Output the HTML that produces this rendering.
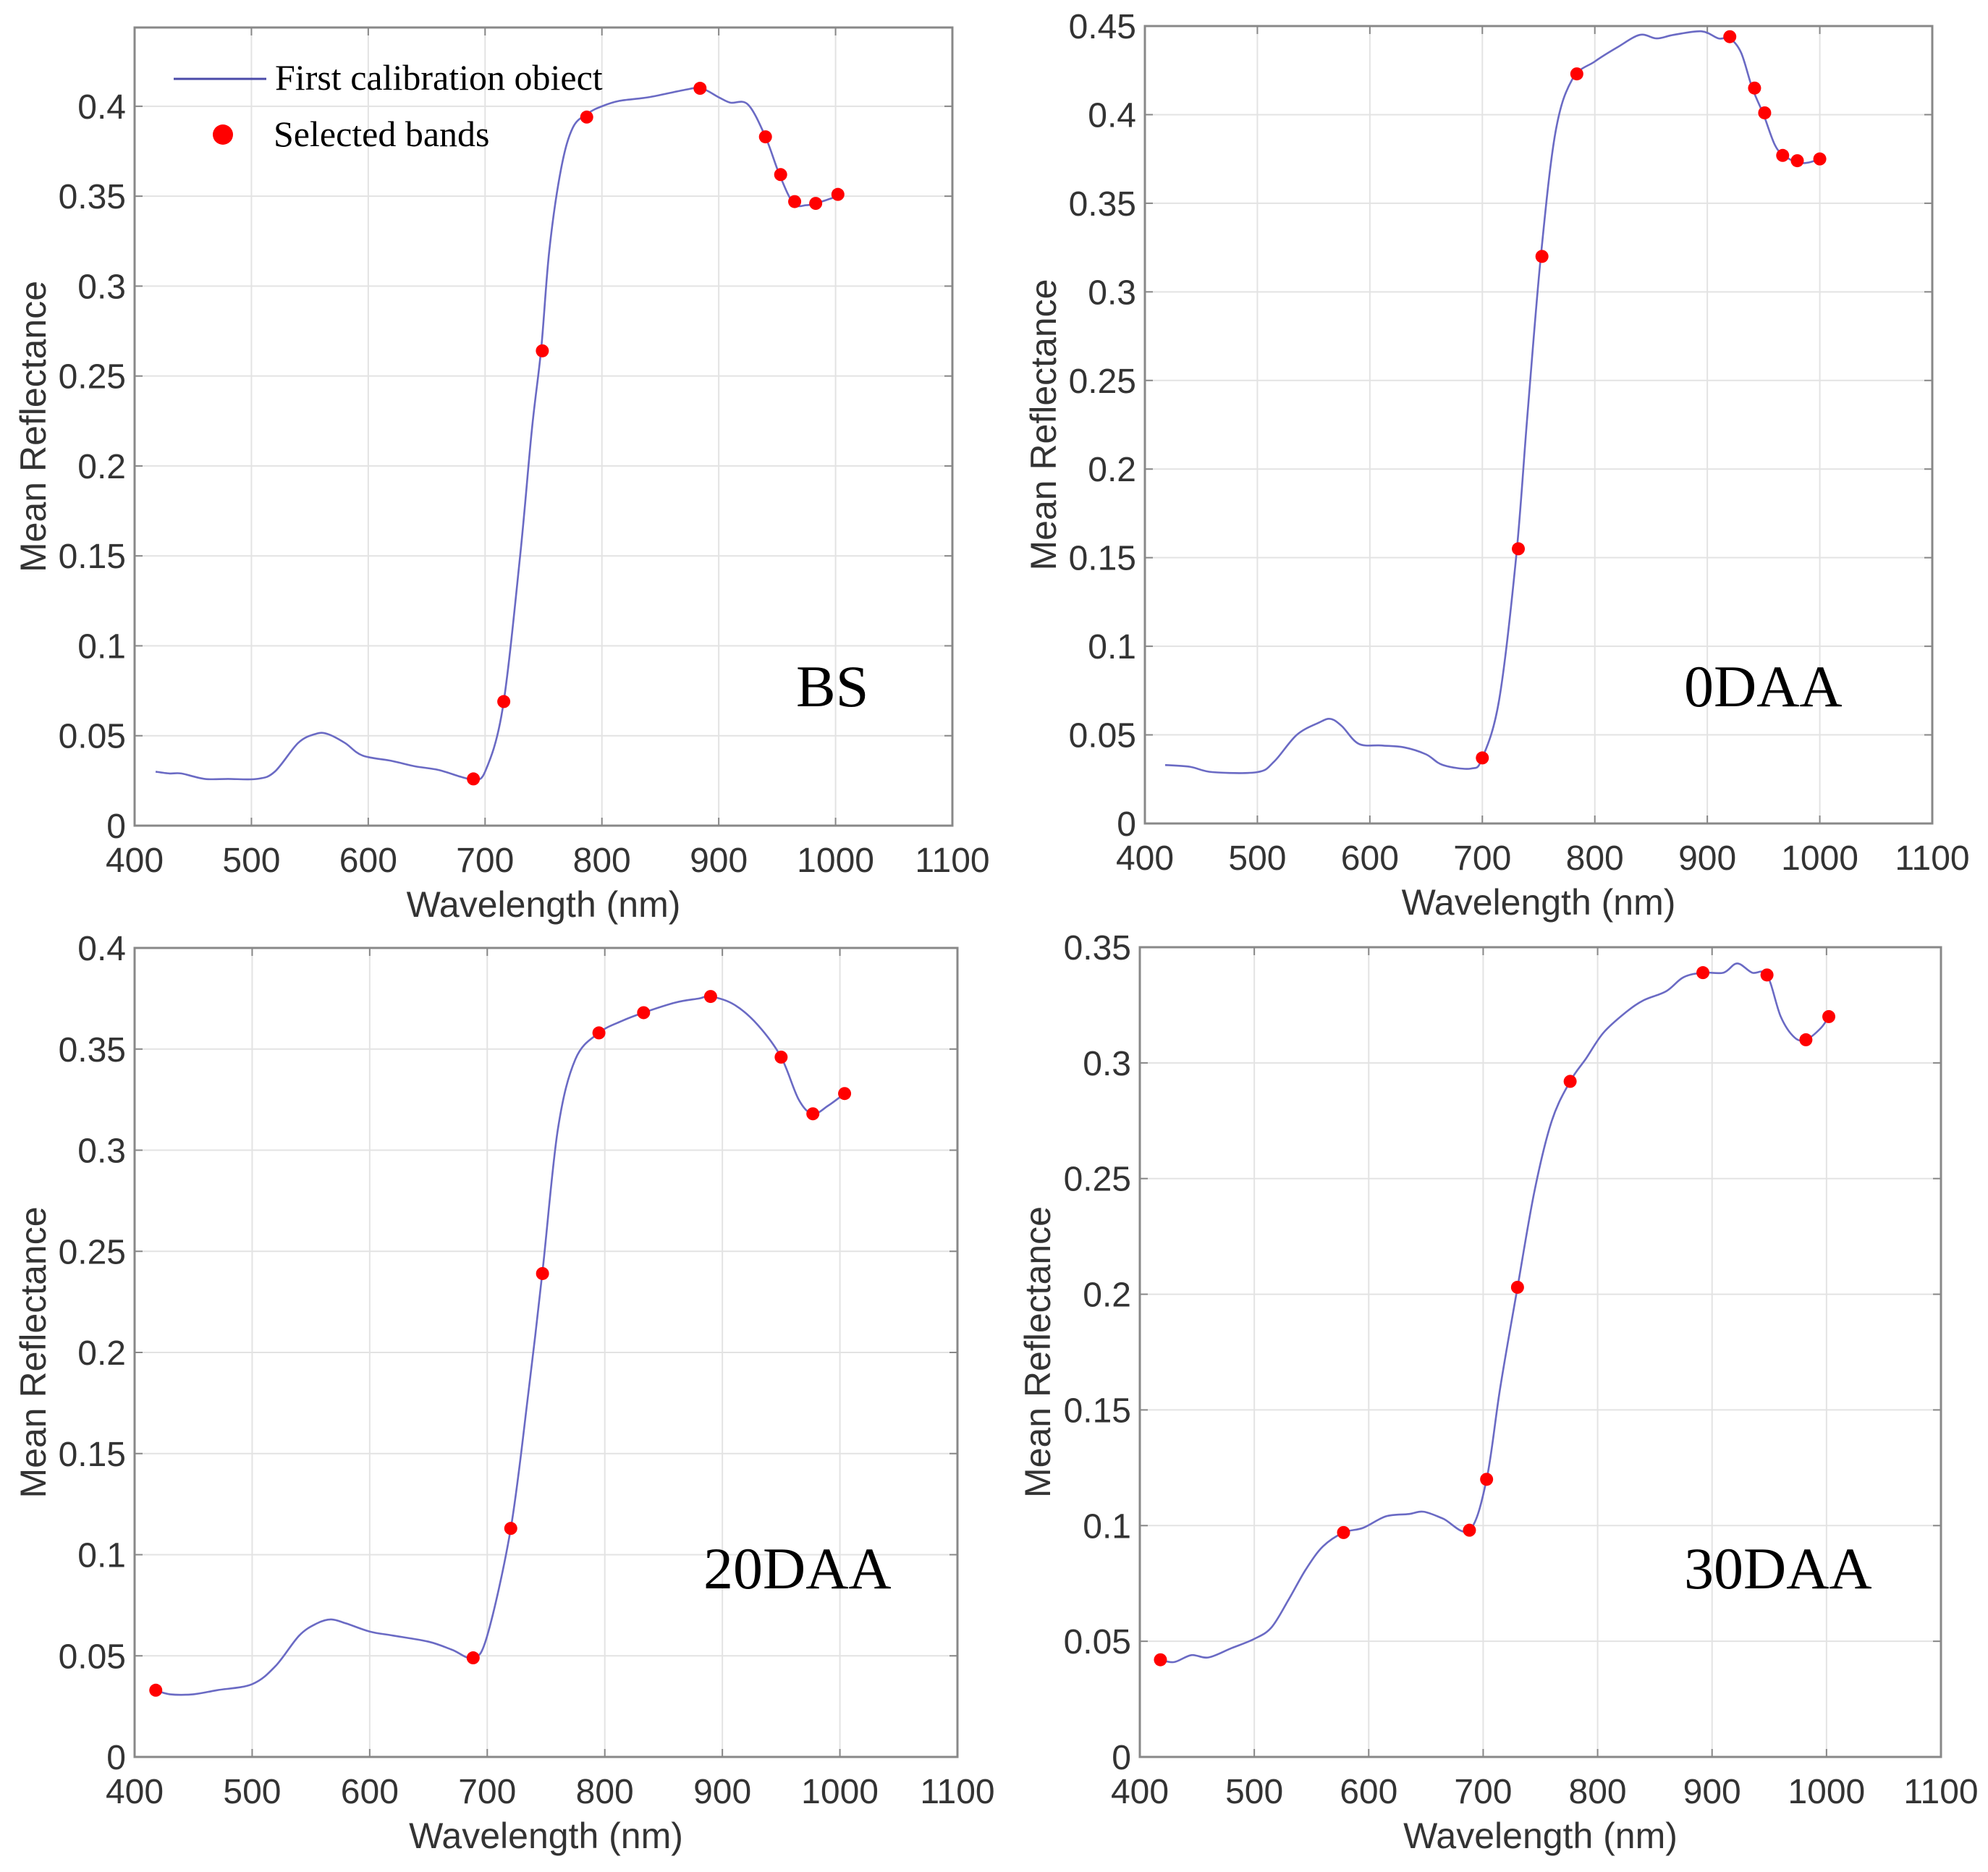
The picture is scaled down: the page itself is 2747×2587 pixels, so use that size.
<!DOCTYPE html>
<html><head><meta charset="utf-8"><style>
html,body{margin:0;padding:0;background:#fff;}
svg{display:block;}
</style></head><body>
<svg id="fig" width="2747" height="2587" viewBox="0 0 2747 2587" xmlns="http://www.w3.org/2000/svg"></svg>
<script>
// ---- data ----
const bsCurveX = [418,430,440,460,480,505,520,540,555,565,580,595,620,640,660,680,690,700,715,730,740,748,755,765,775,788,800,815,840,870,885,900,910,925,940,952,964,975,983,1002];
const bsCurveY = [0.030,0.029,0.029,0.026,0.026,0.026,0.030,0.046,0.051,0.051,0.046,0.039,0.036,0.033,0.031,0.027,0.026,0.030,0.065,0.15,0.22,0.265,0.32,0.365,0.388,0.396,0.400,0.403,0.405,0.409,0.410,0.405,0.402,0.401,0.383,0.362,0.346,0.345,0.346,0.350];
const bsBandX = [690,716,749,787,884,940,953,965,983,1002];
const bsBandY = [0.026,0.069,0.264,0.394,0.410,0.383,0.362,0.347,0.346,0.351];

const d0CurveX = [418,440,460,500,515,535,555,565,575,590,610,630,650,665,690,700,715,730,740,752,765,780,800,820,840,855,870,895,910,920,930,940,950,960,968,980,990,1000];
const d0CurveY = [0.033,0.032,0.029,0.029,0.035,0.050,0.057,0.059,0.055,0.045,0.044,0.043,0.039,0.033,0.031,0.037,0.07,0.15,0.23,0.32,0.39,0.42,0.43,0.438,0.445,0.443,0.445,0.447,0.443,0.443,0.435,0.415,0.400,0.383,0.377,0.373,0.373,0.375];
const d0BandX = [700,732,753,784,920,942,951,967,980,1000];
const d0BandY = [0.037,0.155,0.320,0.423,0.444,0.415,0.401,0.377,0.374,0.375];

const d20CurveX = [418,430,450,470,500,520,540,555,567,580,600,620,650,670,688,700,720,735,747,760,775,795,815,833,860,880,890,910,930,950,965,977,990,1004];
const d20CurveY = [0.033,0.031,0.031,0.033,0.036,0.045,0.060,0.066,0.068,0.066,0.062,0.060,0.057,0.053,0.049,0.060,0.113,0.18,0.24,0.31,0.345,0.358,0.364,0.368,0.373,0.375,0.376,0.372,0.362,0.346,0.325,0.318,0.322,0.328];
const d20BandX = [418,688,720,747,795,833,890,950,977,1004];
const d20BandY = [0.033,0.049,0.113,0.239,0.358,0.368,0.376,0.346,0.318,0.328];

const d30CurveX = [418,430,445,460,480,500,515,530,545,560,578,595,615,635,648,665,688,703,715,730,745,760,776,790,805,825,840,860,875,892,910,922,935,948,960,972,982,995,1002];
const d30CurveY = [0.042,0.041,0.044,0.043,0.047,0.051,0.056,0.068,0.081,0.091,0.097,0.099,0.104,0.105,0.106,0.103,0.098,0.120,0.16,0.203,0.245,0.275,0.292,0.302,0.313,0.322,0.327,0.331,0.337,0.339,0.339,0.343,0.339,0.338,0.320,0.311,0.310,0.315,0.320];
const d30BandX = [418,578,688,703,730,776,892,948,982,1002];
const d30BandY = [0.042,0.097,0.098,0.120,0.203,0.292,0.339,0.338,0.310,0.320];

const xTicks = [400,500,600,700,800,900,1000,1100];
const xTickLabels = ['400','500','600','700','800','900','1000','1100'];
const yTicksBS = [0,0.05,0.1,0.15,0.2,0.25,0.3,0.35,0.4];
const yTicks0 = [0,0.05,0.1,0.15,0.2,0.25,0.3,0.35,0.4,0.45];
const yTicks20 = [0,0.05,0.1,0.15,0.2,0.25,0.3,0.35,0.4];
const yTicks30 = [0,0.05,0.1,0.15,0.2,0.25,0.3,0.35];

const NS='http://www.w3.org/2000/svg';
const svg=document.getElementById('fig');
function mk(tag,attrs,parent){const e=document.createElementNS(NS,tag);for(const k in attrs)e.setAttribute(k,attrs[k]);(parent||svg).appendChild(e);return e;}
function fmt(v){return v===0?'0':String(+v.toFixed(2));}

function smoothPath(pts){
  let d='M'+pts[0][0]+','+pts[0][1];
  for(let i=0;i<pts.length-1;i++){
    const p0=pts[Math.max(0,i-1)],p1=pts[i],p2=pts[i+1],p3=pts[Math.min(pts.length-1,i+2)];
    const c1x=p1[0]+(p2[0]-p0[0])/6,c1y=p1[1]+(p2[1]-p0[1])/6;
    const c2x=p2[0]-(p3[0]-p1[0])/6,c2y=p2[1]-(p3[1]-p1[1])/6;
    d+=' C'+c1x.toFixed(1)+','+c1y.toFixed(1)+' '+c2x.toFixed(1)+','+c2y.toFixed(1)+' '+p2[0].toFixed(1)+','+p2[1].toFixed(1);
  }
  return d;
}

function panel(cfg){
  const g=mk('g',{});
  
  
  const {L,R,T,B,ymax,yTicks,cx,cy,bx,by}=cfg;
  const xs=v=>L+(v-400)/700*(R-L);
  const ys=v=>B-v/ymax*(B-T);
  mk('rect',{x:L,y:T,width:R-L,height:B-T,fill:'#fff'},g);
  xTicks.forEach(t=>{const x=xs(t);const l=mk('line',{x1:x,y1:T,x2:x,y2:B,stroke:'#e3e3e3','stroke-width':2},g);});
  yTicks.forEach(t=>{const y=ys(t);const l=mk('line',{x1:L,y1:y,x2:R,y2:y,stroke:'#e3e3e3','stroke-width':2},g);});
  xTicks.forEach((t,i)=>{const x=xs(t);
    mk('line',{x1:x,y1:B,x2:x,y2:B-11,stroke:'#888','stroke-width':2},g);
    mk('line',{x1:x,y1:T,x2:x,y2:T+11,stroke:'#888','stroke-width':2},g);
    const tx=mk('text',{x:x,y:B+64,'text-anchor':'middle','font-size':48,fill:'#333','font-family':'Liberation Sans, sans-serif'},g);
    tx.textContent=xTickLabels[i];
    
    
  });
  yTicks.forEach(t=>{const y=ys(t);
    mk('line',{x1:L,y1:y,x2:L+11,y2:y,stroke:'#888','stroke-width':2},g);
    mk('line',{x1:R,y1:y,x2:R-11,y2:y,stroke:'#888','stroke-width':2},g);
    const tx=mk('text',{x:L-12,y:y+17,'text-anchor':'end','font-size':48,fill:'#333','font-family':'Liberation Sans, sans-serif'},g);
    tx.textContent=fmt(t);
    
    
  });
  const frame=mk('rect',{x:L,y:T,width:R-L,height:B-T,fill:'none',stroke:'#888','stroke-width':3},g);
  
  
  const xl=mk('text',{x:(L+R)/2,y:B+126,'text-anchor':'middle','font-size':50,fill:'#333','font-family':'Liberation Sans, sans-serif'},g);
  xl.textContent='Wavelength (nm)';
  
  
  const yx=cfg.ylx, yy=(T+B)/2;
  const yl=mk('text',{x:yx,y:yy,'text-anchor':'middle','font-size':50,fill:'#333','font-family':'Liberation Sans, sans-serif',transform:'rotate(-90 '+yx+' '+yy+')'},g);
  yl.textContent='Mean Reflectance';
  
  
  const pts=cx.map((x,i)=>[xs(x),ys(cy[i])]);
  const p=mk('path',{d:smoothPath(pts),fill:'none',stroke:'#6a6ac4','stroke-width':2.6},g);
  
  
  bx.forEach((x,i)=>{const c=mk('circle',{cx:xs(x),cy:ys(by[i]),r:9,fill:'#ff0000'},g);
    
    });
  const pl=mk('text',{x:cfg.lx,y:cfg.ly,'font-size':82,fill:'#000','font-family':'Liberation Serif, serif'},g);
  pl.textContent=cfg.label;
  
  
  return g;
}

panel({name:'panel-bs',L:186,R:1316,T:38,B:1141,ymax:0.4438,yTicks:yTicksBS,cx:bsCurveX,cy:bsCurveY,bx:bsBandX,by:bsBandY,ylx:63,lx:1100,ly:976,label:'BS'});
panel({name:'panel-0daa',L:1582,R:2670,T:36,B:1138,ymax:0.45,yTicks:yTicks0,cx:d0CurveX,cy:d0CurveY,bx:d0BandX,by:d0BandY,ylx:1459,lx:2327,ly:976,label:'0DAA'});
panel({name:'panel-20daa',L:186,R:1323,T:1310,B:2428,ymax:0.4,yTicks:yTicks20,cx:d20CurveX,cy:d20CurveY,bx:d20BandX,by:d20BandY,ylx:63,lx:972,ly:2195,label:'20DAA'});
panel({name:'panel-30daa',L:1575,R:2682,T:1309,B:2428,ymax:0.35,yTicks:yTicks30,cx:d30CurveX,cy:d30CurveY,bx:d30BandX,by:d30BandY,ylx:1451,lx:2327,ly:2195,label:'30DAA'});

const lg=mk('g',{});


const ll=mk('line',{x1:240,y1:109,x2:368,y2:109,stroke:'#4a4aa8','stroke-width':3},lg);


const lt1=mk('text',{x:380,y:124,'font-size':50,fill:'#000','font-family':'Liberation Serif, serif'},lg);
lt1.textContent='First calibration obiect';


const ld=mk('circle',{cx:308,cy:186,r:14,fill:'#ff0000'},lg);


const lt2=mk('text',{x:378,y:202,'font-size':50,fill:'#000','font-family':'Liberation Serif, serif'},lg);
lt2.textContent='Selected bands';


</script>
</body></html>
